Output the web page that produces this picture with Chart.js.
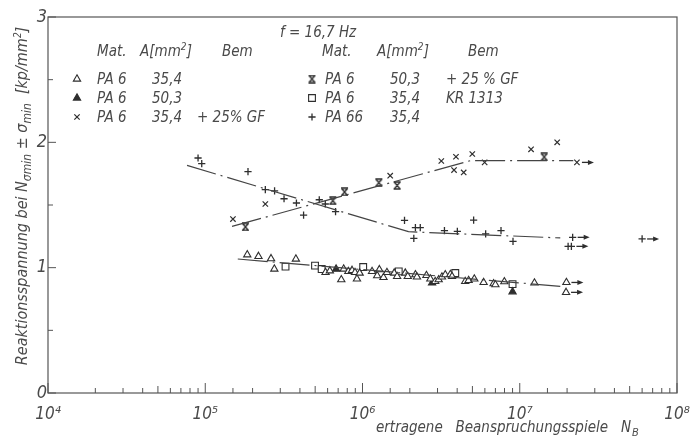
<!DOCTYPE html>
<html>
<head>
<meta charset="utf-8">
<script src="https://cdn.jsdelivr.net/npm/chart.js@4/dist/chart.umd.min.js"></script>
<style>
  body { margin: 0; background: #fff; }
  canvas { display: block; }
</style>
</head>
<body>
<canvas id="woehlerChart" width="696" height="440"></canvas>
<script>
// --- data (x = cycles to failure, y = stress) ---
const xDecades = [1e4, 1e5, 1e6, 1e7, 1e8];
const yTickLabels = ['0', '1', '2', '3'];

// PA 6, A = 35,4 mm² (open triangle)
const pa6_354 = [
  [1.85e5, 1.103], [2.18e5, 1.09], [2.62e5, 1.072], [3.77e5, 1.069], [2.75e5, 0.989],
  [5.82e5, 0.962], [6.2e5, 0.975], [7.59e5, 0.989], [7.33e5, 0.904], [8.13e5, 0.97],
  [8.58e5, 0.978], [8.96e5, 0.962], [9.22e5, 0.91], [9.59e5, 0.957], [1.15e6, 0.97],
  [1.24e6, 0.936], [1.28e6, 0.984], [1.36e6, 0.922], [1.43e6, 0.962], [1.59e6, 0.957],
  [1.66e6, 0.93], [1.87e6, 0.957], [1.94e6, 0.93], [2.17e6, 0.944], [2.22e6, 0.926],
  [2.55e6, 0.938], [2.7e6, 0.91], [2.9e6, 0.89], [3.05e6, 0.904], [3.2e6, 0.926],
  [3.36e6, 0.944], [3.62e6, 0.946], [3.71e6, 0.93], [4.5e6, 0.89], [4.73e6, 0.898],
  [5.14e6, 0.91], [5.89e6, 0.882], [6.82e6, 0.872], [7.0e6, 0.864], [7.98e6, 0.888],
  [1.24e7, 0.878], [1.98e7, 0.882], [1.97e7, 0.803]
];
// PA 6, A = 50,3 mm² (filled triangle)
const pa6_503 = [[6.79e5, 0.989], [2.77e6, 0.878], [9.0e6, 0.808]];
// PA 6, 35,4 mm², +25 % GF (x)
const pa6gf_354 = [
  [1.5e5, 1.388], [2.41e5, 1.508], [1.5e6, 1.734], [3.17e6, 1.851], [3.93e6, 1.885],
  [4.99e6, 1.907], [3.82e6, 1.779], [4.4e6, 1.76], [5.98e6, 1.84], [1.18e7, 1.944],
  [1.73e7, 2.0], [2.31e7, 1.84]
];
// PA 6, 50,3 mm², +25 % GF (hourglass)
const pa6gf_503 = [
  [1.8e5, 1.325], [6.48e5, 1.534], [7.69e5, 1.604], [1.27e6, 1.678], [1.66e6, 1.656],
  [1.43e7, 1.883]
];
// PA 6, 35,4 mm², KR 1313 (open square)
const pa6kr_354 = [
  [3.24e5, 1.008], [4.99e5, 1.016], [5.5e5, 0.989], [1.01e6, 1.005], [1.7e6, 0.97],
  [3.89e6, 0.957], [9.0e6, 0.869]
];
// PA 66, 35,4 mm² (plus)
const pa66_354 = [
  [9.0e4, 1.875], [9.5e4, 1.83], [1.87e5, 1.767], [2.41e5, 1.622], [2.76e5, 1.612],
  [3.17e5, 1.55], [3.8e5, 1.516], [4.22e5, 1.42], [5.31e5, 1.542], [5.8e5, 1.508],
  [6.74e5, 1.447], [1.85e6, 1.377], [2.17e6, 1.319], [2.33e6, 1.319], [2.12e6, 1.234],
  [3.32e6, 1.295], [4.01e6, 1.289], [5.09e6, 1.38], [6.07e6, 1.269], [7.6e6, 1.295],
  [9.06e6, 1.21], [2.17e7, 1.242], [2.03e7, 1.17], [2.13e7, 1.17], [6.0e7, 1.229]
];
// run-outs (arrow to the right)
const runouts = [
  [2.17e7, 1.242], [2.13e7, 1.17], [6.0e7, 1.229], [2.31e7, 1.84],
  [1.98e7, 0.882], [1.97e7, 0.803]
];
// fitted curves
const fitPA66 = [[7.66e4, 1.816], [1.96e6, 1.287], [1.81e7, 1.237]];
const fitGF = [[1.48e5, 1.329], [4.86e6, 1.854], [2.19e7, 1.854]];
const fitPA6 = [[1.61e5, 1.069], [1.81e7, 0.851]];

const legendLeft = [
  ['triOpen', 'PA 6', '35,4', ''],
  ['triFilled', 'PA 6', '50,3', ''],
  ['cross', 'PA 6', '35,4', '+ 25% GF']
];
const legendRight = [
  ['hourglass', 'PA 6', '50,3', '+ 25 % GF'],
  ['square', 'PA 6', '35,4', 'KR 1313'],
  ['plus', 'PA 66', '35,4', '']
];

const ink = '#2e2e2e';
const textInk = '#4a4a4a';
const FONT = "'Liberation Sans Narrow', 'DejaVu Sans Condensed', 'DejaVu Sans', sans-serif";

function hourglassImage() {
  const c = document.createElement('canvas');
  c.width = 9; c.height = 9;
  const g = c.getContext('2d');
  g.strokeStyle = ink;
  g.lineWidth = 1.4;
  g.beginPath();
  g.moveTo(1, 1); g.lineTo(8, 1);
  g.moveTo(1, 8); g.lineTo(8, 8);
  g.moveTo(1.5, 1); g.lineTo(7.5, 8);
  g.moveTo(7.5, 1); g.lineTo(1.5, 8);
  g.stroke();
  return c;
}
const hourglass = hourglassImage();

const pts = arr => arr.map(p => ({ x: p[0], y: p[1] }));

const markerStyles = {
  triOpen: { pointStyle: 'triangle', pointRadius: 4.2, pointBackgroundColor: '#fff', pointBorderColor: ink, pointBorderWidth: 1.1 },
  triFilled: { pointStyle: 'triangle', pointRadius: 4.2, pointBackgroundColor: ink, pointBorderColor: ink, pointBorderWidth: 1.1 },
  cross: { pointStyle: 'crossRot', pointRadius: 3.8, pointBorderColor: ink, pointBorderWidth: 1.2 },
  hourglass: { pointStyle: hourglass, pointRadius: 4.5 },
  square: { pointStyle: 'rect', pointRadius: 4.8, pointBackgroundColor: '#fff', pointBorderColor: ink, pointBorderWidth: 1.1 },
  plus: { pointStyle: 'cross', pointRadius: 3.6, pointBorderColor: ink, pointBorderWidth: 1.3 }
};

function scatterSet(label, arr, style) {
  return Object.assign({ label, data: pts(arr), showLine: false }, markerStyles[style]);
}
function fitSet(label, arr) {
  return {
    type: 'line', label, data: pts(arr), showLine: true, pointRadius: 0,
    borderColor: '#444', borderWidth: 1.2, borderDash: [30, 5, 2, 5], fill: false
  };
}

const supDigits = { 4: '⁴', 5: '⁵', 6: '⁶', 7: '⁷', 8: '⁸' };

const paperPlugin = {
  id: 'paper',
  beforeDatasetsDraw(chart) {
    const { ctx, chartArea: a, scales } = chart;
    ctx.save();
    ctx.strokeStyle = '#555';
    ctx.lineWidth = 1.2;
    ctx.strokeRect(a.left, a.top, a.right - a.left, a.bottom - a.top);
    // inner ticks on x
    ctx.lineWidth = 1;
    scales.x.ticks.forEach(t => {
      const lg = Math.log10(t.value);
      const m = Math.round(t.value / Math.pow(10, Math.floor(lg + 1e-9)));
      const major = Math.abs(lg - Math.round(lg)) < 1e-6;
      const len = major ? 10 : (m === 5 ? 7 : 5);
      const px = scales.x.getPixelForValue(t.value);
      ctx.beginPath();
      ctx.moveTo(px, a.bottom);
      ctx.lineTo(px, a.bottom - len);
      ctx.stroke();
    });
    scales.y.ticks.forEach(t => {
      const py = scales.y.getPixelForValue(t.value);
      const len = Number.isInteger(t.value) ? 8 : 5;
      ctx.beginPath();
      ctx.moveTo(a.left, py);
      ctx.lineTo(a.left + len, py);
      ctx.stroke();
    });
    ctx.restore();
  },
  afterDatasetsDraw(chart) {
    const { ctx, scales } = chart;
    ctx.save();
    ctx.strokeStyle = ink;
    ctx.fillStyle = ink;
    ctx.lineWidth = 1.3;
    runouts.forEach(p => {
      const px = scales.x.getPixelForValue(p[0]);
      const py = scales.y.getPixelForValue(p[1]);
      const x0 = px + 5, x1 = px + 17;
      ctx.beginPath();
      ctx.moveTo(x0, py);
      ctx.lineTo(x1 - 4, py);
      ctx.stroke();
      ctx.beginPath();
      ctx.moveTo(x1, py);
      ctx.lineTo(x1 - 6, py - 2.5);
      ctx.lineTo(x1 - 6, py + 2.5);
      ctx.closePath();
      ctx.fill();
    });
    ctx.restore();
  },
  afterDraw(chart) {
    const { ctx } = chart;
    ctx.save();
    ctx.fillStyle = textInk;
    ctx.textBaseline = 'alphabetic';

    // frequency note and legend table
    ctx.font = 'italic 15px ' + FONT;
    ctx.fillText('f = 16,7 Hz', 280, 37);

    const drawHeader = (xMat, xA, xBem) => {
      ctx.font = 'italic 15px ' + FONT;
      ctx.fillText('Mat.', xMat, 56);
      ctx.fillText('A[mm', xA, 56);
      const w = ctx.measureText('A[mm').width;
      ctx.font = 'italic 10px ' + FONT;
      ctx.fillText('2', xA + w, 50);
      ctx.font = 'italic 15px ' + FONT;
      ctx.fillText(']', xA + w + 6, 56);
      ctx.fillText('Bem', xBem, 56);
    };
    drawHeader(97, 140, 222);
    drawHeader(322, 377, 468);

    const drawRows = (rows, xSym, xMat, xA, xBem) => {
      rows.forEach((r, i) => {
        const y = 84 + i * 19;
        const st = markerStyles[r[0]];
        ctx.save();
        ctx.strokeStyle = st.pointBorderColor || ink;
        ctx.fillStyle = st.pointBackgroundColor || ink;
        ctx.lineWidth = st.pointBorderWidth || 1;
        Chart.helpers.drawPoint(ctx, {
          pointStyle: st.pointStyle, radius: st.pointRadius, rotation: 0, borderWidth: ctx.lineWidth
        }, xSym, y - 5);
        ctx.restore();
        ctx.font = 'italic 15px ' + FONT;
        ctx.fillText(r[1], xMat, y);
        ctx.fillText(r[2], xA, y);
        if (r[3]) ctx.fillText(r[3], xBem, y);
      });
    };
    drawRows(legendLeft, 77, 97, 152, 197);
    drawRows(legendRight, 312, 325, 390, 446);

    // y-axis title (rotated, with subscripts)
    const yParts = [
      ['Reaktionsspannung bei N', 16, 0],
      ['σmin', 12, 4],
      [' ± σ', 16, 0],
      ['min', 12, 4],
      ['  [kp/mm', 16, 0],
      ['2', 10, -6],
      [']', 16, 0]
    ];
    let total = 0;
    yParts.forEach(p => { ctx.font = 'italic ' + p[1] + 'px ' + FONT; total += ctx.measureText(p[0]).width; });
    ctx.translate(27, 196);
    ctx.rotate(-Math.PI / 2);
    let cx = -total / 2;
    yParts.forEach(p => {
      ctx.font = 'italic ' + p[1] + 'px ' + FONT;
      ctx.fillText(p[0], cx, p[2]);
      cx += ctx.measureText(p[0]).width;
    });
    ctx.setTransform(1, 0, 0, 1, 0, 0);

    // x-axis title
    ctx.font = 'italic 15px ' + FONT;
    const xt = 'ertragene   Beanspruchungsspiele   N';
    ctx.fillText(xt, 376, 432);
    const wx = ctx.measureText(xt).width;
    ctx.font = 'italic 11px ' + FONT;
    ctx.fillText('B', 376 + wx + 1, 436);
    ctx.restore();
  }
};

const ctx = document.getElementById('woehlerChart');
new Chart(ctx, {
  type: 'scatter',
  data: {
    datasets: [
      fitSet('fit PA 66', fitPA66),
      fitSet('fit GF', fitGF),
      fitSet('fit PA 6', fitPA6),
      scatterSet('PA 6 35,4', pa6_354, 'triOpen'),
      scatterSet('PA 6 50,3', pa6_503, 'triFilled'),
      scatterSet('PA 6 35,4 +25% GF', pa6gf_354, 'cross'),
      scatterSet('PA 6 50,3 +25% GF', pa6gf_503, 'hourglass'),
      scatterSet('PA 6 35,4 KR 1313', pa6kr_354, 'square'),
      scatterSet('PA 66 35,4', pa66_354, 'plus')
    ]
  },
  options: {
    responsive: false,
    animation: false,
    layout: { autoPadding: false, padding: { top: 17, right: 19, left: 0, bottom: 0 } },
    plugins: { legend: { display: false }, tooltip: { enabled: false } },
    scales: {
      x: {
        type: 'logarithmic',
        min: xDecades[0],
        max: xDecades[xDecades.length - 1],
        grid: { display: false, drawTicks: false },
        border: { display: false },
        ticks: {
          autoSkip: false,
          maxRotation: 0,
          padding: 11,
          color: textInk,
          font: { family: FONT, size: 17, style: 'italic' },
          callback: v => {
            const lg = Math.log10(v);
            if (Math.abs(lg - Math.round(lg)) > 1e-6) return '';
            return '10' + supDigits[Math.round(lg)];
          }
        },
        // keep the plot frame where the reference has it (labels may overhang)
        afterFit: s => { s.height = 47; s.paddingLeft = 0; s.paddingRight = 0; }
      },
      y: {
        min: 0,
        max: 3,
        grid: { display: false, drawTicks: false },
        border: { display: false },
        ticks: {
          stepSize: 0.5,
          padding: 1,
          color: textInk,
          font: { family: FONT, size: 18, style: 'italic' },
          callback: v => Number.isInteger(v) ? yTickLabels[v] : ''
        },
        afterFit: s => { s.width = 48; s.paddingTop = 0; s.paddingBottom = 0; }
      }
    }
  },
  plugins: [paperPlugin]
});
</script>
</body>
</html>
